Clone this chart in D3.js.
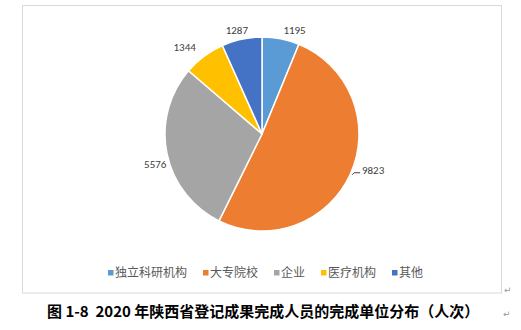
<!DOCTYPE html>
<html>
<head>
<meta charset="utf-8">
<script src="https://cdn.jsdelivr.net/npm/d3@7"></script>
<style>
  html, body { margin: 0; padding: 0; background: #fff; }
  svg { display: block; }
</style>
</head>
<body>
<svg id="chart" width="521" height="330"></svg>
<script>
// Unit categories and person-counts, clockwise from 12 o'clock
const categories = ["独立科研机构", "大专院校", "企业", "医疗机构", "其他"];
const values = [1195, 9823, 5576, 1344, 1287];
const colors = ["#5B9BD5", "#ED7D31", "#A5A5A5", "#FFC000", "#4472C4"];
const caption = "图 1-8  2020 年陕西省登记成果完成人员的完成单位分布（人次）";

const svg = d3.select("#chart");
const cx = 262, cy = 134, r = 97;

// chart frame
svg.append("rect")
  .attr("x", 22.5).attr("y", 5.5)
  .attr("width", 479).attr("height", 287.5)
  .attr("fill", "#fff").attr("stroke", "#d9d9d9").attr("stroke-width", 1);

const pie = d3.pie().sort(null).value(d => d)(values);
const arc = d3.arc().innerRadius(0).outerRadius(r);
const labelArc = d3.arc().innerRadius(r + 14).outerRadius(r + 14);

const g = svg.append("g").attr("transform", `translate(${cx},${cy})`);

g.selectAll("path.slice")
  .data(pie)
  .join("path")
  .attr("class", "slice")
  .attr("d", arc)
  .attr("fill", (d, i) => colors[i])
  .attr("stroke", "#fff")
  .attr("stroke-width", 1.5)
  .attr("stroke-linejoin", "round");

// data labels around the outside of each slice
const labelOffsets = [[11, 5], [10, -10], [2, 8], [-11, 2], [-2, 5]];
const labelPos = pie.map((d, i) => {
  const [x, y] = labelArc.centroid(d);
  return [x + labelOffsets[i][0], y + labelOffsets[i][1]];
});
g.selectAll("text.val")
  .data(pie)
  .join("text")
  .attr("class", "val")
  .attr("x", (d, i) => labelPos[i][0])
  .attr("y", (d, i) => labelPos[i][1])
  .attr("text-anchor", "middle")
  .attr("dy", "0.35em")
  .attr("font-family", "Carlito, 'Liberation Sans', Arial, sans-serif")
  .attr("font-size", 11)
  .attr("fill", "#404040")
  .text(d => d.data);

// short leader line for the large slice label
{
  const [tx, ty] = labelPos[1];
  g.append("path")
    .attr("d", `M${tx - 21},${ty + 5}L${tx - 19},${ty + 3}L${tx - 13},${ty + 3}`)
    .attr("fill", "none").attr("stroke", "#404040").attr("stroke-width", 1);
}

// legend
const legend = svg.append("g").attr("transform", "translate(0,273)");
const legendX = [108, 203, 274, 321, 392];
const item = legend.selectAll("g.item")
  .data(categories)
  .join("g")
  .attr("class", "item")
  .attr("transform", (d, i) => `translate(${legendX[i]},0)`);
item.append("rect")
  .attr("x", 0).attr("y", -3)
  .attr("width", 5.5).attr("height", 5.5)
  .attr("fill", (d, i) => colors[i]);
item.append("text")
  .attr("x", 7)
  .attr("dy", "0.35em")
  .attr("font-family", "'Noto Sans CJK SC', sans-serif")
  .attr("font-size", 12)
  .attr("fill", "#595959")
  .text(d => d);

// paragraph marks
svg.append("text")
  .attr("x", 504).attr("y", 293)
  .attr("font-family", "'DejaVu Sans', sans-serif")
  .attr("font-size", 9).attr("fill", "#999")
  .text("↵");

// caption (spaces kept as non-breaking so the double gap survives)
svg.append("text")
  .attr("x", 47).attr("y", 317)
  .attr("font-family", "'Noto Sans CJK SC', sans-serif")
  .attr("font-weight", "bold")
  .attr("font-size", 15)
  .attr("fill", "#000")
  .text(caption.replace(/ /g, "\u00a0"));
svg.append("text")
  .attr("x", 503).attr("y", 317)
  .attr("font-family", "'DejaVu Sans', sans-serif")
  .attr("font-size", 9).attr("fill", "#999")
  .text("↵");
</script>
</body>
</html>
